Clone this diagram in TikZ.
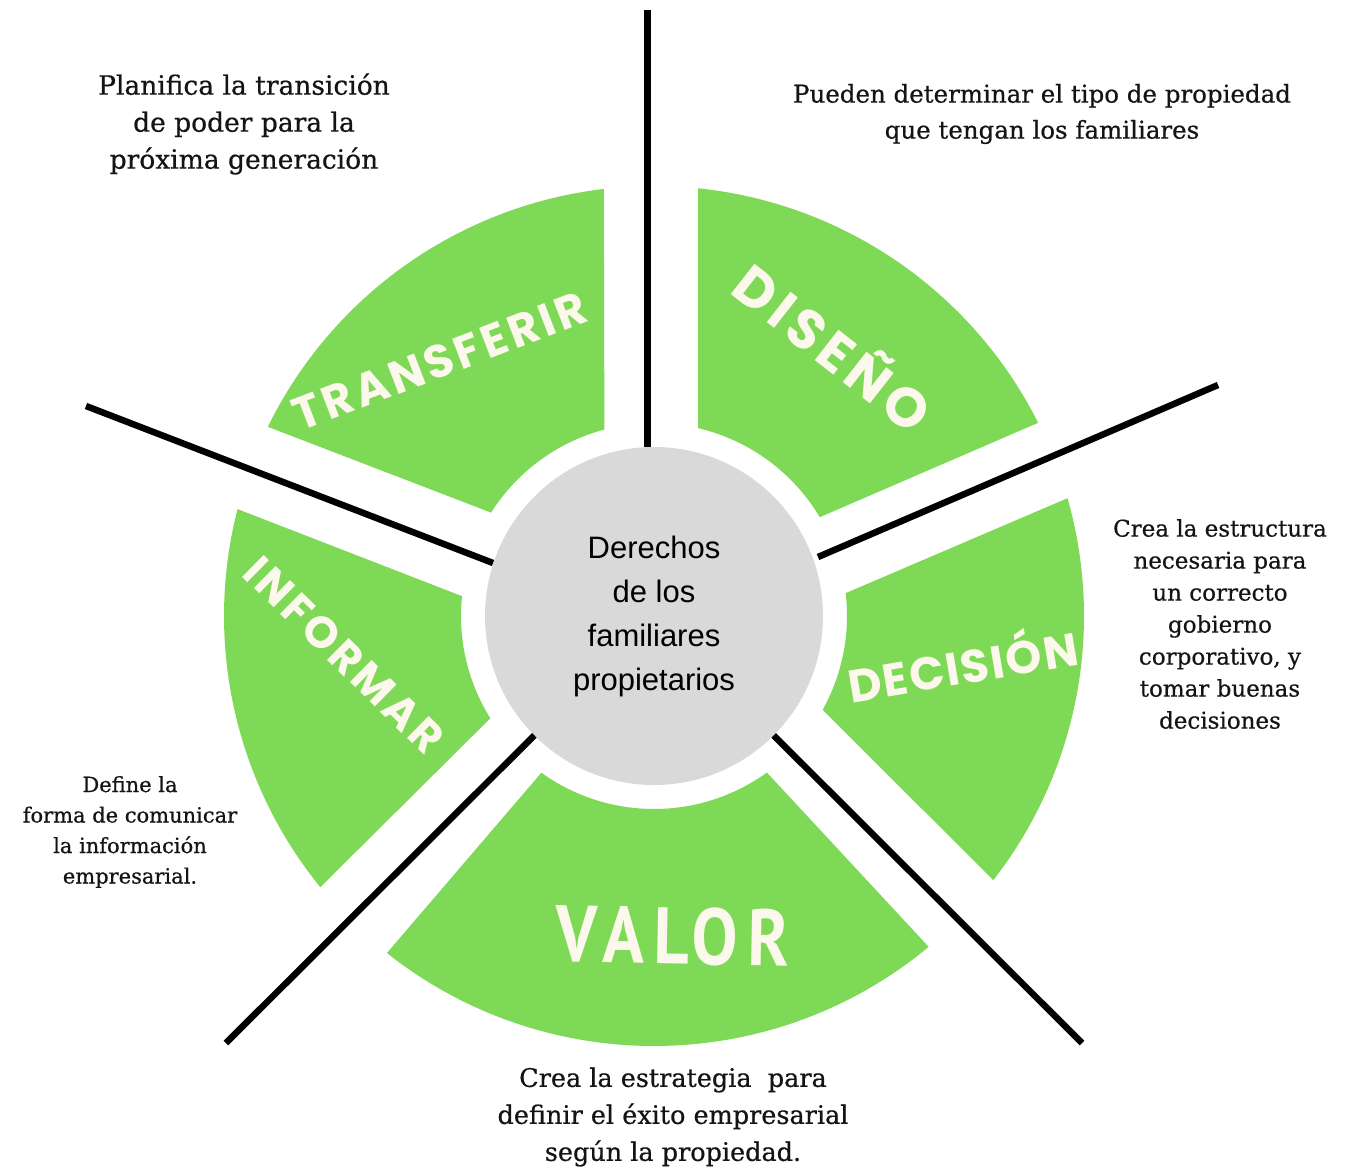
\documentclass[tikz,border=0pt]{standalone}
\usepackage{fontspec}
\usetikzlibrary{calc}
\setmainfont{DejaVu Serif}
\newfontfamily\descfont[FakeBold=0.6]{DejaVu Serif}
\newfontfamily\ctrfont{Liberation Sans}
\newfontfamily\labfont{Poppins}
\newfontfamily\valfont[FakeStretch=0.86]{PT Sans}
\definecolor{grn}{HTML}{7ED957}
\definecolor{gry}{HTML}{D9D9D9}
\definecolor{crm}{HTML}{FDF8EC}
\definecolor{txt}{HTML}{141414}
\begin{document}
\begin{tikzpicture}[x=1pt,y=-1pt,
  desc/.style={align=center, text=txt, inner sep=0pt},
  lab/.style={text=crm, inner sep=0pt},
  spoke/.style={line width=6.5pt, black},
  sector/.style={fill=grn},
]
\useasboundingbox (0,0) rectangle (1345,1168);
\fill[white] (0,0) rectangle (1345,1168);
\coordinate (C) at (654,616);
% outer ends of the spokes
\coordinate (e1) at (647.5,10);
\coordinate (e2) at (1218,385);
\coordinate (e3) at (1082,1043);
\coordinate (e4) at (226,1043);
\coordinate (e5) at (86,406);
% inner ends on the grey circle
\coordinate (s1) at (647.5,447);
\coordinate (s2) at (818,557);
\coordinate (s5) at (493,563);
% sectors (angles measured counter-clockwise, y up)
\newcommand\ringsector[4]{%
  \fill[sector] ($(C)+(#1:430pt)$) arc[start angle=#1, end angle=#2, radius=430pt]
    -- ($(C)+(#3:193pt)$) arc[start angle=#3, end angle=#4, radius=193pt] -- cycle;}
\ringsector{96.7}{153.9}{147.6}{104.9}   % TRANSFERIR
\ringsector{26.7}{84.1}{76.8}{30.8}      % DISENO
\ringsector{-37.9}{15.9}{6.8}{-29.1}     % DECISION
\ringsector{231.6}{309.7}{305.8}{234.3}  % VALOR
\ringsector{165.6}{219.1}{212.0}{174.1}  % INFORMAR
% centre
\node[circle, fill=gry, minimum size=338pt, inner sep=0pt, outer sep=0pt,
      align=center, text=black, font=\ctrfont\fontsize{31pt}{44pt}\selectfont] (circ) at (C)
      {Derechos\\de los\\familiares\\propietarios};
% spokes
\draw[spoke] (s1) -- (e1);
\draw[spoke] (s2) -- (e2);
\draw[spoke] (circ) -- (e3);
\draw[spoke] (circ) -- (e4);
\draw[spoke] (s5) -- (e5);
% labels
\node[lab, rotate=21, font=\labfont\bfseries\addfontfeature{LetterSpace=8}\fontsize{46pt}{46pt}\selectfont] (ltr) at (440,361) {TRANSFERIR};
\node[lab, rotate=-38, font=\labfont\bfseries\addfontfeature{LetterSpace=10}\fontsize{55pt}{55pt}\selectfont] (ldi) at (835,345) {DISEÑO};
\node[lab, rotate=9.5, font=\labfont\bfseries\addfontfeature{LetterSpace=4}\fontsize{46pt}{46pt}\selectfont] (lde) at (962,662) {DECISIÓN};
\node[lab, rotate=-44.5, font=\labfont\bfseries\addfontfeature{LetterSpace=8}\fontsize{44pt}{44pt}\selectfont] (lin) at (344,655) {INFORMAR};
\node[lab, rotate=-1, font=\valfont\bfseries\addfontfeature{LetterSpace=12}\fontsize{80pt}{80pt}\selectfont] (lva) at (673,936) {VALOR};
% descriptions
\node[desc, font=\descfont\fontsize{26.5pt}{37pt}\selectfont] (d1) at (244,124)
  {Planifica la transición\\de poder para la\\próxima generación};
\node[desc, font=\descfont\fontsize{24.5pt}{36pt}\selectfont] (d2) at (1042,114)
  {Pueden determinar el tipo de propiedad\\que tengan los familiares};
\node[desc, font=\descfont\fontsize{23pt}{32pt}\selectfont] (d3) at (1220,624)
  {Crea la estructura\\necesaria para\\un correcto\\gobierno\\corporativo, y\\tomar buenas\\decisiones};
\node[desc, font=\descfont\fontsize{21pt}{30.5pt}\selectfont] (d4) at (130,832)
  {Define la\\forma de comunicar\\la información\\empresarial.};
\node[desc, font=\descfont\fontsize{25.5pt}{37pt}\selectfont] (d5) at (673,1117)
  {Crea la estrategia\ \ para\\definir el éxito empresarial\\según la propiedad.};
\end{tikzpicture}
\end{document}
